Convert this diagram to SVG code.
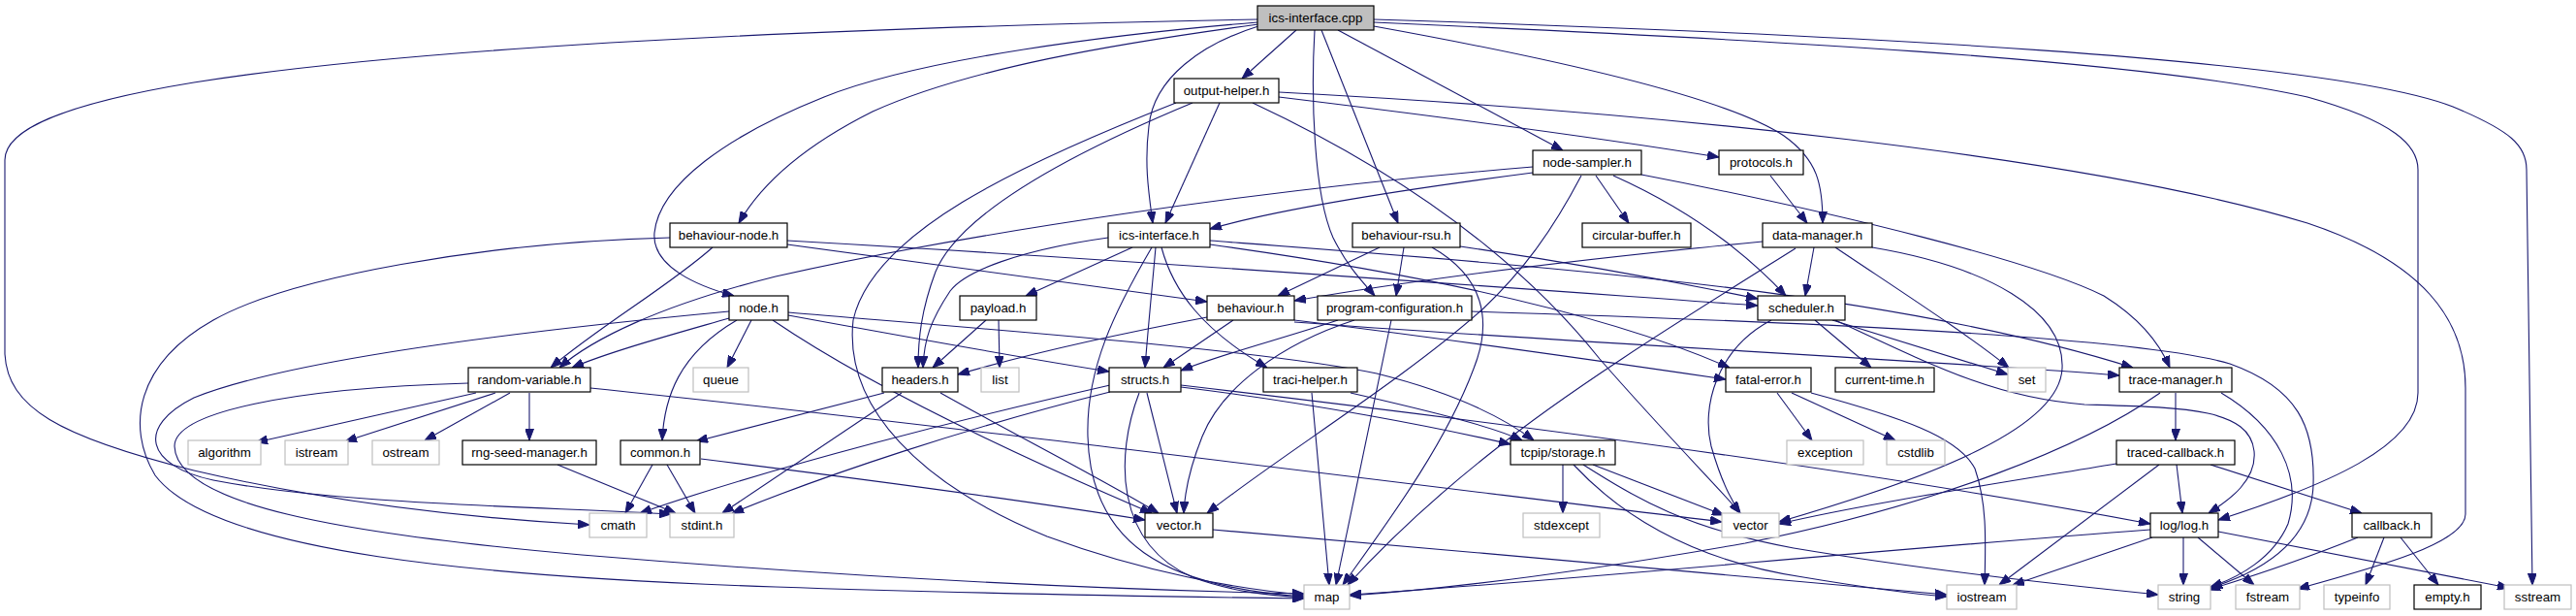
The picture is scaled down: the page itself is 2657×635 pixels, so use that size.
<svg xmlns="http://www.w3.org/2000/svg" width="2657" height="635" viewBox="0 0 2657 635">
<style>
.nd rect{fill:#ffffff;stroke:#000000;stroke-width:1.2}
.sys rect{fill:#ffffff;stroke:#bfbfbf;stroke-width:1.2}
.root rect{fill:#bfbfbf;stroke:#000000;stroke-width:1.2}
text{font-family:"Liberation Sans",Arial,sans-serif;font-size:13.3px;text-anchor:middle;fill:#000000}
#edges path{fill:none;stroke:#191970;stroke-width:1.1;marker-end:url(#ah)}
</style>
<defs>
<marker id="ah" viewBox="0 0 12 9" refX="12" refY="4.5" markerWidth="12" markerHeight="9" markerUnits="userSpaceOnUse" orient="auto">
<path d="M0,0L12,4.5L0,9z" fill="#191970" stroke="#191970" stroke-width="1"/>
</marker>
</defs>
<rect x="0" y="0" width="2657" height="635" fill="#ffffff"/>
<g id="edges">
<path d="M1297,20 C900,28 450,45 200,85 C60,108 5,135 5,165 L5,365 C8,420 60,450 200,485 C350,520 500,535 608,541"/>
<path d="M1297,23 C1150,35 950,60 850,100 C750,140 680,190 675,240 C672,275 720,295 757,305"/>
<path d="M1298,25 C1150,45 1000,70 900,115 C830,150 785,190 762,230"/>
<path d="M1337,31 L1281,81"/>
<path d="M1298,27 C1240,45 1190,80 1185,130 C1180,170 1185,200 1189,230"/>
<path d="M1356,31 C1352,100 1355,200 1375,245 C1390,275 1405,290 1418,305"/>
<path d="M1363,31 L1442,230"/>
<path d="M1380,31 L1612,155"/>
<path d="M1417,27 C1600,60 1780,100 1840,140 C1875,165 1880,190 1880,230"/>
<path d="M1417,23 C1800,40 2200,60 2380,100 C2470,125 2494,150 2494,175 L2494,405 C2494,460 2400,500 2288,536"/>
<path d="M1417,20 C1900,35 2400,60 2530,110 C2590,135 2606,150 2606,175 L2612,603"/>
<path d="M1258,106 L1202,230"/>
<path d="M1230,106 C1100,160 990,220 965,280 C950,320 947,350 947,379"/>
<path d="M1213,106 C1050,170 900,240 880,330 C870,420 950,500 1080,553 C1180,590 1280,608 1345,613"/>
<path d="M1319,100 C1500,122 1680,147 1773,162"/>
<path d="M1319,95 C1700,115 2150,160 2380,230 C2500,270 2543,330 2543,400 L2543,530 C2543,560 2450,585 2370,607"/>
<path d="M1292,106 C1450,180 1570,270 1650,370 C1720,450 1775,505 1795,529"/>
<path d="M1581,172 C1300,195 1000,240 800,285 C680,315 610,350 577,379"/>
<path d="M1581,178 C1450,195 1320,215 1248,236"/>
<path d="M1631,181 C1600,240 1570,280 1530,318 C1450,390 1320,470 1245,529"/>
<path d="M1646,181 L1680,230"/>
<path d="M1664,181 C1740,215 1800,260 1842,305"/>
<path d="M1693,180 C1900,220 2100,270 2170,305 C2210,330 2228,355 2238,379"/>
<path d="M1826,181 L1864,230"/>
<path d="M735,255 C690,295 620,335 568,379"/>
<path d="M691,245 C500,250 300,285 220,330 C140,375 130,440 160,490 C220,570 500,595 800,605 C1000,612 1200,615 1345,617"/>
<path d="M812,252 L1245,311"/>
<path d="M812,248 C1200,270 1600,300 1813,315"/>
<path d="M1168,255 L1058,305"/>
<path d="M1143,245 C1050,258 995,280 980,300 C960,330 953,350 952,379"/>
<path d="M1192,255 C1188,300 1184,340 1181,379"/>
<path d="M1198,255 C1210,300 1240,340 1307,379"/>
<path d="M1188,255 C1150,320 1120,380 1122,450 C1125,560 1200,605 1345,615"/>
<path d="M1248,248 C1600,275 1950,300 2200,379"/>
<path d="M1248,252 C1450,280 1650,320 1784,379"/>
<path d="M1017,330 L962,379"/>
<path d="M1030,330 L1031,379"/>
<path d="M1245,327 C1150,345 1060,365 988,386"/>
<path d="M1272,330 L1200,379"/>
<path d="M1335,330 C1500,350 1650,372 1780,391"/>
<path d="M1335,332 C1600,352 2000,372 2186,387"/>
<path d="M1380,330 C1320,350 1260,365 1218,382"/>
<path d="M1397,330 C1320,355 1260,400 1240,450 C1228,480 1222,505 1221,529"/>
<path d="M1435,330 L1378,603"/>
<path d="M1518,321 C1800,330 2200,345 2300,375 C2370,400 2388,440 2386,500 C2384,560 2330,590 2280,606"/>
<path d="M1423,255 L1318,305"/>
<path d="M1448,255 L1440,305"/>
<path d="M1477,255 C1530,285 1540,330 1520,380 C1490,460 1430,540 1385,603"/>
<path d="M1506,254 C1650,275 1750,295 1813,308"/>
<path d="M1818,249 C1600,270 1450,290 1335,310"/>
<path d="M1871,255 L1862,305"/>
<path d="M1893,255 C1960,300 2030,345 2072,379"/>
<path d="M1852,256 C1750,320 1620,400 1540,465 C1470,520 1420,570 1390,603"/>
<path d="M1931,255 C2050,275 2130,320 2127,380 C2124,440 2000,490 1835,538"/>
<path d="M1827,330 C1770,360 1755,420 1765,460 C1775,495 1785,515 1795,529"/>
<path d="M1872,330 L1930,379"/>
<path d="M1890,330 L2071,386"/>
<path d="M1893,330 C2000,380 2060,410 2150,417 C2250,420 2320,420 2325,465 C2328,495 2300,515 2278,529"/>
<path d="M1833,405 L1869,454"/>
<path d="M1848,405 L1955,454"/>
<path d="M1868,405 C1960,430 2020,450 2037,483 C2050,520 2048,560 2047,603"/>
<path d="M1145,397 C1000,430 800,480 660,529"/>
<path d="M1145,404 C1000,440 850,490 755,529"/>
<path d="M1183,405 L1214,529"/>
<path d="M1175,405 C1150,470 1150,560 1230,595 C1270,610 1310,614 1345,616"/>
<path d="M1218,399 C1350,415 1480,440 1558,458"/>
<path d="M1218,397 C1500,430 1900,480 2218,540"/>
<path d="M912,405 L718,455"/>
<path d="M930,405 L745,529"/>
<path d="M970,405 C1050,450 1130,490 1195,529"/>
<path d="M673,479 L645,529"/>
<path d="M688,479 L717,529"/>
<path d="M723,473 C900,495 1050,515 1181,536"/>
<path d="M491,405 L264,456"/>
<path d="M511,405 L356,455"/>
<path d="M526,405 L438,454"/>
<path d="M546,405 L546,454"/>
<path d="M483,395 C300,400 180,425 180,460 C182,520 350,550 600,572 C900,597 1150,608 1345,612"/>
<path d="M609,400 C900,430 1300,480 1776,538"/>
<path d="M575,479 L697,529"/>
<path d="M752,328 C700,343 630,362 590,379"/>
<path d="M775,330 L750,379"/>
<path d="M760,330 C700,365 685,410 683,454"/>
<path d="M797,330 C900,400 1050,470 1188,529"/>
<path d="M752,321 C550,340 300,370 200,410 C140,440 150,480 220,495 C350,520 550,522 692,530"/>
<path d="M813,325 C950,350 1060,370 1144,383"/>
<path d="M813,322 C1000,338 1300,360 1420,385 C1500,405 1550,430 1582,454"/>
<path d="M1353,405 L1371,603"/>
<path d="M1393,405 C1480,425 1540,440 1570,454"/>
<path d="M1612,479 L1612,529"/>
<path d="M1643,479 L1778,531"/>
<path d="M1623,479 C1680,540 1760,580 1860,595 C1920,605 1970,612 2008,615"/>
<path d="M1633,479 C1690,515 1740,545 1850,565 C2000,590 2150,605 2226,613"/>
<path d="M1251,546 C1500,567 1800,595 2008,613"/>
<path d="M2244,405 L2244,454"/>
<path d="M2228,405 C2150,460 2000,520 1800,560 C1600,595 1480,608 1392,614"/>
<path d="M2291,405 C2350,440 2375,490 2360,540 C2345,575 2310,595 2280,605"/>
<path d="M2245,479 L2251,529"/>
<path d="M2183,478 C2050,500 1920,520 1835,540"/>
<path d="M2227,479 L2062,603"/>
<path d="M2280,479 L2436,529"/>
<path d="M2218,546 C1900,570 1600,600 1392,613"/>
<path d="M2220,554 L2076,603"/>
<path d="M2252,554 L2252,603"/>
<path d="M2267,554 L2325,603"/>
<path d="M2288,548 L2588,606"/>
<path d="M2432,554 C2380,575 2320,595 2278,608"/>
<path d="M2459,554 L2440,603"/>
<path d="M2476,554 L2515,603"/>
</g>
<g id="n-ics-interface-cpp" class="root"><rect x="1297" y="6" width="120" height="25"/><text x="1357" y="22.5">ics-interface.cpp</text></g>
<g id="n-output-helper" class="nd"><rect x="1211" y="81" width="108" height="25"/><text x="1265" y="97.5">output-helper.h</text></g>
<g id="n-node-sampler" class="nd"><rect x="1581" y="155" width="112" height="25"/><text x="1637" y="171.5">node-sampler.h</text></g>
<g id="n-protocols" class="nd"><rect x="1773" y="155" width="87" height="25"/><text x="1816.5" y="171.5">protocols.h</text></g>
<g id="n-behaviour-node" class="nd"><rect x="691" y="230" width="121" height="25"/><text x="751.5" y="246.5">behaviour-node.h</text></g>
<g id="n-ics-interface-h" class="nd"><rect x="1143" y="230" width="105" height="25"/><text x="1195.5" y="246.5">ics-interface.h</text></g>
<g id="n-behaviour-rsu" class="nd"><rect x="1395" y="230" width="111" height="25"/><text x="1450.5" y="246.5">behaviour-rsu.h</text></g>
<g id="n-circular-buffer" class="nd"><rect x="1632" y="230" width="112" height="25"/><text x="1688" y="246.5">circular-buffer.h</text></g>
<g id="n-data-manager" class="nd"><rect x="1818" y="230" width="113" height="25"/><text x="1874.5" y="246.5">data-manager.h</text></g>
<g id="n-node" class="nd"><rect x="752" y="305" width="61" height="25"/><text x="782.5" y="321.5">node.h</text></g>
<g id="n-payload" class="nd"><rect x="990" y="305" width="79" height="25"/><text x="1029.5" y="321.5">payload.h</text></g>
<g id="n-behaviour" class="nd"><rect x="1245" y="305" width="90" height="25"/><text x="1290" y="321.5">behaviour.h</text></g>
<g id="n-program-configuration" class="nd"><rect x="1359" y="305" width="159" height="25"/><text x="1438.5" y="321.5">program-configuration.h</text></g>
<g id="n-scheduler" class="nd"><rect x="1813" y="305" width="90" height="25"/><text x="1858" y="321.5">scheduler.h</text></g>
<g id="n-random-variable" class="nd"><rect x="483" y="379" width="126" height="25"/><text x="546" y="395.5">random-variable.h</text></g>
<g id="n-queue" class="sys"><rect x="715" y="379" width="57" height="25"/><text x="743.5" y="395.5">queue</text></g>
<g id="n-headers" class="nd"><rect x="910" y="379" width="78" height="25"/><text x="949" y="395.5">headers.h</text></g>
<g id="n-list" class="sys"><rect x="1012" y="379" width="39" height="25"/><text x="1031.5" y="395.5">list</text></g>
<g id="n-structs" class="nd"><rect x="1144" y="379" width="74" height="25"/><text x="1181" y="395.5">structs.h</text></g>
<g id="n-traci-helper" class="nd"><rect x="1303" y="379" width="97" height="25"/><text x="1351.5" y="395.5">traci-helper.h</text></g>
<g id="n-fatal-error" class="nd"><rect x="1780" y="379" width="88" height="25"/><text x="1824" y="395.5">fatal-error.h</text></g>
<g id="n-current-time" class="nd"><rect x="1893" y="379" width="102" height="25"/><text x="1944" y="395.5">current-time.h</text></g>
<g id="n-set" class="sys"><rect x="2071" y="379" width="39" height="25"/><text x="2090.5" y="395.5">set</text></g>
<g id="n-trace-manager" class="nd"><rect x="2186" y="379" width="116" height="25"/><text x="2244" y="395.5">trace-manager.h</text></g>
<g id="n-algorithm" class="sys"><rect x="194" y="454" width="75" height="25"/><text x="231.5" y="470.5">algorithm</text></g>
<g id="n-istream" class="sys"><rect x="294" y="454" width="65" height="25"/><text x="326.5" y="470.5">istream</text></g>
<g id="n-ostream" class="sys"><rect x="384" y="454" width="69" height="25"/><text x="418.5" y="470.5">ostream</text></g>
<g id="n-rng-seed-manager" class="nd"><rect x="477" y="454" width="138" height="25"/><text x="546" y="470.5">rng-seed-manager.h</text></g>
<g id="n-common" class="nd"><rect x="640" y="454" width="82" height="25"/><text x="681" y="470.5">common.h</text></g>
<g id="n-tcpip-storage" class="nd"><rect x="1558" y="454" width="108" height="25"/><text x="1612" y="470.5">tcpip/storage.h</text></g>
<g id="n-exception" class="sys"><rect x="1843" y="454" width="79" height="25"/><text x="1882.5" y="470.5">exception</text></g>
<g id="n-cstdlib" class="sys"><rect x="1946" y="454" width="60" height="25"/><text x="1976" y="470.5">cstdlib</text></g>
<g id="n-traced-callback" class="nd"><rect x="2183" y="454" width="122" height="25"/><text x="2244" y="470.5">traced-callback.h</text></g>
<g id="n-cmath" class="sys"><rect x="608" y="529" width="59" height="25"/><text x="637.5" y="545.5">cmath</text></g>
<g id="n-stdint" class="sys"><rect x="691" y="529" width="66" height="25"/><text x="724" y="545.5">stdint.h</text></g>
<g id="n-vector-h" class="nd"><rect x="1181" y="529" width="70" height="25"/><text x="1216" y="545.5">vector.h</text></g>
<g id="n-stdexcept" class="sys"><rect x="1571" y="529" width="79" height="25"/><text x="1610.5" y="545.5">stdexcept</text></g>
<g id="n-vector" class="sys"><rect x="1776" y="529" width="59" height="25"/><text x="1805.5" y="545.5">vector</text></g>
<g id="n-log" class="nd"><rect x="2218" y="529" width="70" height="25"/><text x="2253" y="545.5">log/log.h</text></g>
<g id="n-callback" class="nd"><rect x="2426" y="529" width="82" height="25"/><text x="2467" y="545.5">callback.h</text></g>
<g id="n-map" class="sys"><rect x="1345" y="603" width="47" height="25"/><text x="1368.5" y="619.5">map</text></g>
<g id="n-iostream" class="sys"><rect x="2008" y="603" width="72" height="25"/><text x="2044" y="619.5">iostream</text></g>
<g id="n-string" class="sys"><rect x="2226" y="603" width="54" height="25"/><text x="2253" y="619.5">string</text></g>
<g id="n-fstream" class="sys"><rect x="2306" y="603" width="66" height="25"/><text x="2339" y="619.5">fstream</text></g>
<g id="n-typeinfo" class="sys"><rect x="2397" y="603" width="68" height="25"/><text x="2431" y="619.5">typeinfo</text></g>
<g id="n-empty" class="nd"><rect x="2490" y="603" width="69" height="25"/><text x="2524.5" y="619.5">empty.h</text></g>
<g id="n-sstream" class="sys"><rect x="2583" y="603" width="69" height="25"/><text x="2617.5" y="619.5">sstream</text></g>
</svg>
